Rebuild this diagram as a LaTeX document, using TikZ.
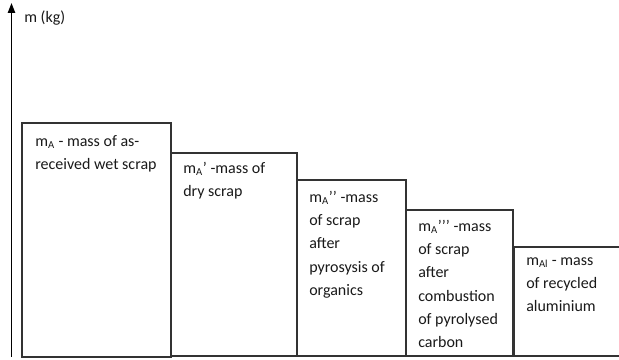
\documentclass[tikz,border=0pt]{standalone}
\usepackage{fontspec}
\setmainfont{Carlito}
\usetikzlibrary{arrows.meta}
\tikzset{
  bar/.style={draw=black!80, line width=0.8pt, anchor=north west, inner sep=0pt, outer sep=0pt},
  lbl/.style={anchor=north west, inner sep=0pt, align=left, text=black!90,
    font={\fontsize{12}{17.4}\selectfont}},
  axisline/.style={draw=black, line width=1.1pt, -{Triangle[length=7.5pt,width=5.5pt]}}
}
\begin{document}
\begin{tikzpicture}[x=0.75pt,y=-0.75pt]
\useasboundingbox (0,0) rectangle (619,360);
% bars (width and height in px * 0.75pt)
\node[bar, minimum width=111.75pt, minimum height=175.5pt] (b1) at (22,123) {};
\node[bar, minimum width=94.5pt, minimum height=152.25pt] (b2) at (171,153) {};
\node[bar, minimum width=81.75pt, minimum height=132pt] (b3) at (297,180) {};
\node[bar, minimum width=80.25pt, minimum height=109.5pt] (b4) at (406,210) {};
\node[bar, minimum width=90pt, minimum height=81.75pt] (b5) at (514,247) {};
% axis
\coordinate (a0) at (11.5,357);
\coordinate (a1) at (11.5,3);
\draw[axisline] (a0) -- (a1);
\node[lbl, anchor=west] (ylab) at (24,18) {m (kg)};
% labels
\node[lbl] (t1) at (35,135) {m\textsubscript{A} - mass of as-\\received wet scrap};
\node[lbl] (t2) at (183,162) {m\textsubscript{A}’ -mass of\\dry scrap};
\node[lbl] (t3) at (309,191) {m\textsubscript{A}’’ -mass\\of scrap\\after\\pyrosysis of\\organics};
\node[lbl] (t4) at (418,220) {m\textsubscript{A}’’’ -mass\\of scrap\\after\\combustion\\of pyrolysed\\carbon};
\node[lbl] (t5) at (526,257) {m\textsubscript{Al} - mass\\of recycled\\aluminium};
\end{tikzpicture}
\end{document}
